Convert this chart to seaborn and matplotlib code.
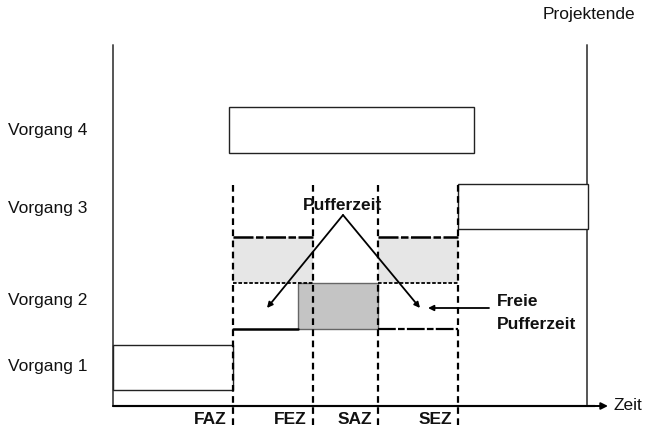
import matplotlib
matplotlib.use("Agg")
import matplotlib.pyplot as plt
import seaborn as sns

sns.set_theme(style="white")
plt.rcParams['font.family'] = ['Liberation Sans', 'DejaVu Sans']

# time points (project start = 0)
zeitpunkte = ['FAZ', 'FEZ', 'SAZ', 'SEZ']
zeit_werte = [120, 200, 265, 345]
projektende = 474

# activities: label, start, end, lower edge, upper edge
vorgaenge = ['Vorgang 1', 'Vorgang 2', 'Vorgang 3', 'Vorgang 4']
v_start = [0, 185, 345, 116]
v_ende = [120, 265, 475, 361]
v_unten = [16, 77, 177, 253]
v_oben = [61, 123, 222, 299]
label_y = [39, 106, 198, 275]

# buffer (Pufferzeit) row
puffer_start = [120, 265]
puffer_ende = [200, 345]
puffer_unten = 123
puffer_oben = 169

fig = plt.figure(figsize=(6.51, 4.32), dpi=100)
ax = fig.add_axes([0, 0, 1, 1])
ax.set_xlim(-113, 651 - 113)
ax.set_ylim(-26, 406)
ax.axis('off')

fs = 12.5
axis_col = '#555555'
txt_col = '#111111'

# axes
ax.plot([0, 0], [0, 361], color=axis_col, lw=1.4)
ax.plot([projektende, projektende], [0, 361], color=axis_col, lw=1.4)
ax.annotate('', xy=(495, 0), xytext=(0, 0),
            arrowprops=dict(arrowstyle='-|>', color='black', lw=1.4,
                            mutation_scale=10, shrinkA=0, shrinkB=0))
ax.plot([0, 482], [0, 0], color=axis_col, lw=1.6)
ax.text(501, 0, 'Zeit', fontsize=fs, ha='left', va='center', color=txt_col)
ax.text(476, 391, 'Projektende', fontsize=fs, ha='center', va='center', color=txt_col)

# activity boxes
fills = ['white', '#c4c4c4', 'white', 'white']
for i, name in enumerate(vorgaenge):
    ax.barh(y=(v_unten[i] + v_oben[i]) / 2, width=v_ende[i] - v_start[i],
            left=v_start[i], height=v_oben[i] - v_unten[i],
            color=fills[i], edgecolor='#222222' if i != 1 else '#666666',
            linewidth=1.0, zorder=2)
    ax.text(-105, label_y[i], name, fontsize=fs, ha='left', va='center', color=txt_col)

# buffer boxes
for s, e in zip(puffer_start, puffer_ende):
    ax.barh(y=(puffer_unten + puffer_oben) / 2, width=e - s, left=s,
            height=puffer_oben - puffer_unten, color='#e6e6e6',
            edgecolor='none', zorder=1)
    ax.plot([s, e], [puffer_oben, puffer_oben], color='black', lw=1.8,
            ls=(0, (8, 1, 3, 1)), zorder=3)
    ax.plot([s, e], [puffer_unten, puffer_unten], color='black', lw=1.3,
            ls=(0, (2, 1)), zorder=3)

# lower edge of Vorgang 2 row
ax.plot([zeit_werte[0], v_start[1]], [v_unten[1], v_unten[1]], color='black', lw=1.8, zorder=3)
ax.plot([zeit_werte[2], zeit_werte[3]], [v_unten[1], v_unten[1]], color='black', lw=1.6,
        ls=(0, (8, 1, 3, 1)), zorder=3)

# dashed time lines and labels
for name, t in zip(zeitpunkte, zeit_werte):
    ax.plot([t, t], [-19, 223], color='black', lw=1.6, ls=(0, (3, 2)), zorder=4)
    ax.text(t - 6, -14, name, fontsize=fs, fontweight='bold', ha='right',
            va='center', color=txt_col)

# Pufferzeit arrows
apex = (230, 191)
for tip in [(154, 98), (307, 98)]:
    ax.annotate('', xy=tip, xytext=apex,
                arrowprops=dict(arrowstyle='-|>', color='black', lw=1.3,
                                mutation_scale=8, shrinkA=0, shrinkB=0), zorder=5)
ax.text(230, 201, 'Pufferzeit', fontsize=fs, fontweight='bold', ha='center',
        va='center', color=txt_col, zorder=6)

ax.annotate('', xy=(315, 98), xytext=(376, 98),
            arrowprops=dict(arrowstyle='-|>', color='black', lw=1.3,
                            mutation_scale=8, shrinkA=0, shrinkB=0))
ax.text(384, 93, 'Freie\nPufferzeit', fontsize=fs, fontweight='bold', ha='left',
        va='center', color=txt_col, linespacing=1.6)

fig.savefig('out.png', dpi=100, facecolor='white')
